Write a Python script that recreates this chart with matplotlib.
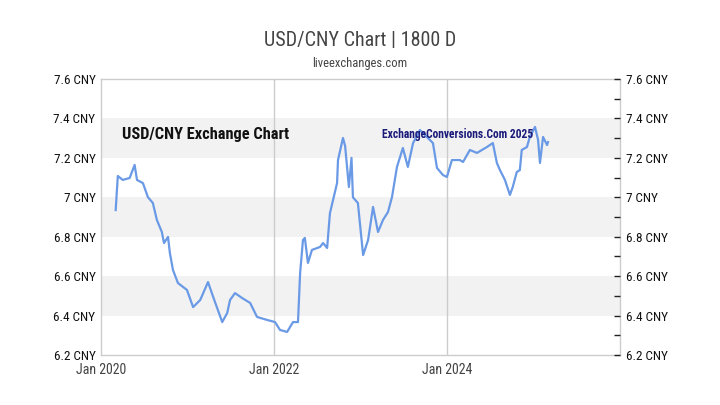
import matplotlib
matplotlib.use('Agg')
import matplotlib.pyplot as plt
from matplotlib import font_manager
import pandas as pd

# USD/CNY daily rate
dates = ['2020-03-03', '2020-03-12', '2020-04-02', '2020-05-01', '2020-05-22', '2020-06-01',
         '2020-06-26', '2020-07-17', '2020-08-07', '2020-08-24', '2020-09-14', '2020-09-23',
         '2020-10-10', '2020-10-18', '2020-10-31', '2020-11-21', '2020-12-29', '2021-01-24',
         '2021-02-23', '2021-03-28', '2021-04-19', '2021-05-27', '2021-06-17', '2021-06-29',
         '2021-07-20', '2021-08-19', '2021-09-22', '2021-10-21', '2021-12-02', '2022-01-05',
         '2022-01-26', '2022-02-25', '2022-03-22', '2022-04-12', '2022-04-21', '2022-05-03',
         '2022-05-11', '2022-05-24', '2022-06-10', '2022-07-14', '2022-07-27', '2022-08-13',
         '2022-08-25', '2022-09-24', '2022-09-28', '2022-10-19', '2022-10-28', '2022-11-04',
         '2022-11-13', '2022-11-24', '2022-11-30', '2022-12-21',
         '2023-01-12', '2023-02-02', '2023-02-23', '2023-03-16', '2023-04-06', '2023-04-27',
         '2023-05-14', '2023-06-04', '2023-06-29', '2023-07-20', '2023-08-11', '2023-09-09',
         '2023-11-03', '2023-11-20', '2023-12-15', '2024-01-01', '2024-01-22', '2024-02-25',
         '2024-03-09', '2024-04-07', '2024-05-07', '2024-06-18', '2024-07-13', '2024-07-30',
         '2024-08-12', '2024-09-02', '2024-09-23', '2024-10-05', '2024-10-22', '2024-11-04',
         '2024-11-12', '2024-12-04', '2024-12-16', '2025-01-07', '2025-01-20', '2025-01-28',
         '2025-02-10', '2025-02-27', '2025-03-03']
rates = [6.935, 7.108, 7.088, 7.098, 7.164, 7.088,
         7.072, 7.001, 6.971, 6.885, 6.824, 6.768,
         6.799, 6.717, 6.631, 6.565, 6.530, 6.443,
         6.479, 6.570, 6.494, 6.367, 6.413, 6.479,
         6.514, 6.489, 6.464, 6.393, 6.378, 6.367,
         6.327, 6.317, 6.367, 6.367, 6.616, 6.783,
         6.794, 6.667, 6.733, 6.748, 6.768, 6.743,
         6.920, 7.072, 7.189, 7.301, 7.260, 7.170,
         7.052, 7.200, 7.000, 6.971,
         6.707, 6.783, 6.951, 6.824, 6.885, 6.925,
         7.001, 7.154, 7.250, 7.154, 7.275, 7.341,
         7.275, 7.149, 7.113, 7.103, 7.189, 7.189,
         7.179, 7.240, 7.225, 7.255, 7.275, 7.174,
         7.138, 7.088, 7.012, 7.052, 7.128, 7.138,
         7.240, 7.255, 7.306, 7.357, 7.291, 7.174,
         7.306, 7.265, 7.280]

y_ticks = [6.2, 6.4, 6.6, 6.8, 7.0, 7.2, 7.4, 7.6]
y_labels = ['6.2 CNY', '6.4 CNY', '6.6 CNY', '6.8 CNY', '7 CNY', '7.2 CNY', '7.4 CNY', '7.6 CNY']
x_ticks = ['2020-01-01', '2022-01-01', '2024-01-01', '2026-01-01']
x_labels = ['Jan 2020', 'Jan 2022', 'Jan 2024', '']
bands = [(6.4, 6.6), (6.8, 7.0), (7.2, 7.4)]


def pick_font(names, **kw):
    for n in names:
        try:
            font_manager.findfont(font_manager.FontProperties(family=n, **kw),
                                  fallback_to_default=False)
            return n
        except ValueError:
            pass
    return 'DejaVu Sans'


cond = pick_font(['DejaVu Sans Condensed', 'Liberation Sans Narrow', 'Roboto Condensed', 'Open Sans'])

dts = pd.to_datetime(dates)
xt = pd.to_datetime(x_ticks)

fig = plt.figure(figsize=(7.2, 4.05), dpi=100)
ax = fig.add_axes([101 / 720, 50 / 405, 519 / 720, 276 / 405])

for lo, hi in bands:
    ax.axhspan(lo, hi, color='#f2f2f2', lw=0, zorder=0)
for d in xt[1:3]:
    ax.axvline(d, color='#cccccc', lw=1, zorder=1)

ax.plot(dts, rates, color='#6a9ae6', lw=1.6, zorder=3)

ax.set_xlim(xt[0], xt[-1])
ax.set_ylim(6.2, 7.6)
for s in ax.spines.values():
    s.set_color('#cccccc')
    s.set_linewidth(1)

ax.set_xticks(xt)
ax.set_xticklabels(x_labels, family=cond, fontsize=10, color='#444444')
ax.tick_params(axis='x', length=0, pad=6)
ax.set_yticks(y_ticks)
ax.set_yticklabels(y_labels, family=cond, fontsize=9.5, color='#111111')
ax.tick_params(axis='y', length=0, pad=4)

ax2 = ax.twinx()
ax2.set_ylim(6.2, 7.6)
ax2.set_yticks(y_ticks)
ax2.set_yticklabels(y_labels, family=cond, fontsize=9.5, color='#111111')
ax2.set_yticks([6.3, 6.5, 6.7, 6.9, 7.1, 7.3, 7.5], minor=True)
ax2.tick_params(axis='y', which='both', direction='in', length=4, width=1, color='#222222', pad=4)
for s in ax2.spines.values():
    s.set_visible(False)

fig.text(0.5, 1 - 40 / 405, 'USD/CNY Chart | 1800 D', ha='center', va='center',
         family=cond, fontsize=14.5, color='#444444')
fig.text(0.5, 1 - 64 / 405, 'liveexchanges.com', ha='center', va='center',
         family=cond, fontsize=9, color='#444444')
fig.text(122 / 720, 1 - 135 / 405, 'USD/CNY Exchange Chart', ha='left', va='center',
         family=cond, fontweight='bold', fontsize=11.8, color='#111111')
fig.text(458 / 720, 1 - 135 / 405, 'ExchangeConversions.Com 2025', ha='center', va='center',
         family=cond, fontweight='bold', fontsize=8.3, color='#1a1a7a')

fig.savefig('out.png', dpi=100)
